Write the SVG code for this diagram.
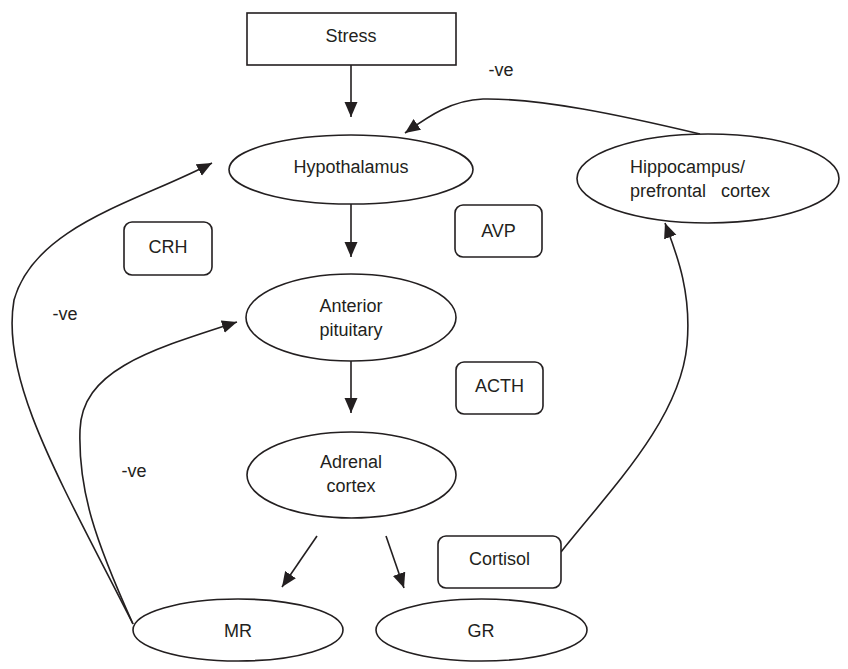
<svg xmlns="http://www.w3.org/2000/svg" width="848" height="669" viewBox="0 0 848 669">
<style>
.s{fill:#fff;stroke:#231f20;stroke-width:1.6}
.t{font-family:"Liberation Sans",Arial,sans-serif;font-size:18px;fill:#231f20;text-anchor:middle}
.l{text-anchor:start}
.c{fill:none;stroke:#231f20;stroke-width:1.6}
</style>
<defs>
<marker id="ah" markerUnits="userSpaceOnUse" markerWidth="16" markerHeight="14" refX="15" refY="6.5" orient="auto">
<path d="M0,0 L15,6.5 L0,13 z" fill="#231f20"/>
</marker>
</defs>
<rect width="848" height="669" fill="#fff"/>
<g id="connectors">
<line class="c" x1="351" y1="65" x2="351" y2="117" marker-end="url(#ah)"/>
<line class="c" x1="351" y1="204" x2="351" y2="257" marker-end="url(#ah)"/>
<line class="c" x1="351" y1="361" x2="351" y2="413" marker-end="url(#ah)"/>
<line class="c" x1="317" y1="536" x2="282" y2="587" marker-end="url(#ah)"/>
<line class="c" x1="386" y1="536" x2="404" y2="588" marker-end="url(#ah)"/>
<path class="c" d="M700,134 C620,115 540,98 483,99 C450,100 425,119 405,133" marker-end="url(#ah)"/>
<path class="c" d="M561,552 C610,490 680,420 687,345 C692,290 675,250 665,223" marker-end="url(#ah)"/>
<path class="c" d="M133,624 C60,480 0,380 14,300 C35,225 140,201 212,163" marker-end="url(#ah)"/>
<path class="c" d="M133,624 C95,540 78,490 80,430 C82,370 150,350 237,322" marker-end="url(#ah)"/>
</g>
<g id="stress"><rect class="s" x="247" y="13" width="209" height="52"/><text class="t" x="351" y="42">Stress</text></g>
<g id="hypothalamus"><ellipse class="s" cx="351" cy="169.5" rx="122" ry="34.5"/><text class="t" x="351" y="173">Hypothalamus</text></g>
<g id="hippocampus"><ellipse class="s" cx="708" cy="178.5" rx="131" ry="44.5"/><text class="t l" x="630" y="173">Hippocampus/</text><text class="t l" x="630" y="197" xml:space="preserve">prefrontal   cortex</text></g>
<g id="crh"><rect class="s" x="124" y="222" width="88" height="53" rx="8"/><text class="t" x="168" y="253">CRH</text></g>
<g id="avp"><rect class="s" x="455" y="205" width="87" height="52" rx="8"/><text class="t" x="498.5" y="237">AVP</text></g>
<g id="anterior"><ellipse class="s" cx="351" cy="317.5" rx="105" ry="43.5"/><text class="t" x="351" y="312">Anterior</text><text class="t" x="351" y="336">pituitary</text></g>
<g id="acth"><rect class="s" x="456" y="362" width="87" height="52" rx="8"/><text class="t" x="499.5" y="392">ACTH</text></g>
<g id="adrenal"><ellipse class="s" cx="351.5" cy="475" rx="104.5" ry="43"/><text class="t" x="351" y="468">Adrenal</text><text class="t" x="351" y="492">cortex</text></g>
<g id="cortisol"><rect class="s" x="438" y="536" width="123" height="52" rx="8"/><text class="t" x="499.5" y="565">Cortisol</text></g>
<g id="mr"><ellipse class="s" cx="238" cy="630" rx="105" ry="31"/><text class="t" x="238" y="637">MR</text></g>
<g id="gr"><ellipse class="s" cx="481.5" cy="630" rx="105.5" ry="31"/><text class="t" x="481" y="637">GR</text></g>
<g id="labels">
<text class="t" x="501" y="76">-ve</text>
<text class="t" x="65" y="320">-ve</text>
<text class="t" x="134" y="477">-ve</text>
</g>
</svg>
